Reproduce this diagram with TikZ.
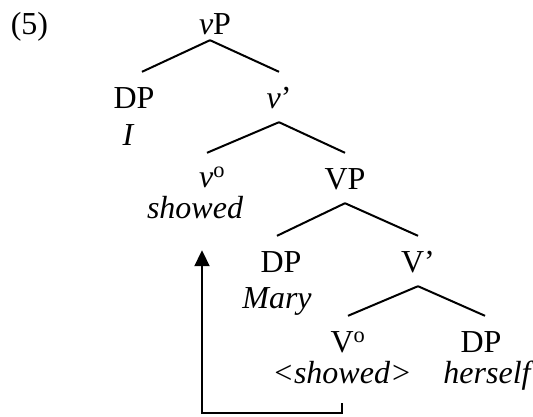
\documentclass[tikz,border=0pt]{standalone}
\usepackage{fontspec}
\setmainfont{Liberation Serif}
\usetikzlibrary{
	arrows.meta,
	calc
}

\begin{document}
\begin{tikzpicture}[x=1pt, y=-1pt,
        cat/.style={inner sep=0pt, anchor=base, text height=36pt, text depth=0pt,
            font=\fontsize{32}{38}\selectfont},
        phrase/.style={cat, text depth=14pt},
        word/.style={inner sep=0pt, anchor=base, text height=20pt, text depth=20pt,
            font=\fontsize{32}{38}\selectfont\itshape},
        branch/.style={black, line width=2pt},
        movearrow/.style={black, line width=2pt, -{Triangle[length=16pt, width=15pt]}}]
                \useasboundingbox (0,0) rectangle (533,416);
                % example number
                \node[cat] (ex) at (29.5,34) {(5)};
                % categories
                \node[phrase, text depth=6pt] (vP) at (215,34) {\textit{v}P};
                \node[cat] (DPa) at (134,108) {DP};
                \node[phrase] (vbar) at (279,108) {\textit{v}’};
                \node[cat] (vhead) at (212,187) {\textit{v}\textsuperscript{o}};
                \node[phrase] (VP) at (345,189) {VP};
                \node[cat] (DPb) at (281,272) {DP};
                \node[phrase] (Vbar) at (418,272) {V’};
                \node[cat] (Vhead) at (348,352) {V\textsuperscript{o}};
                \node[cat] (DPc) at (481,352) {DP};
                % words
                \node[word] (wI) at (128,145) {I};
                \node[word] (wshowed) at (195,218) {showed};
                \node[word] (wMary) at (277,308) {Mary};
                \node[word] (wtrace) at (342,383) {<showed>};
                \node[word] (wherself) at (487,383) {herself};
                % branches
                \draw[branch] ($(vP.south)+(-5,0)$) to ($(DPa.north)+(8,0)$);
                \draw[branch] ($(vP.south)+(-5,0)$) to (vbar.north);
                \draw[branch] (vbar.south) to ($(vhead.north)+(-5,2)$);
                \draw[branch] (vbar.south) to (VP.north);
                \draw[branch] (VP.south) to ($(DPb.north)+(-4,0)$);
                \draw[branch] (VP.south) to (Vbar.north);
                \draw[branch] (Vbar.south) to (Vhead.north);
                \draw[branch] (Vbar.south) to ($(DPc.north)+(4,0)$);
                % head movement
                \coordinate (land) at ($(wshowed.south)+(7,12)$);
                \draw[movearrow] (wtrace.south) -- ++(0,10) -| (land);
            \end{tikzpicture}
\end{document}
